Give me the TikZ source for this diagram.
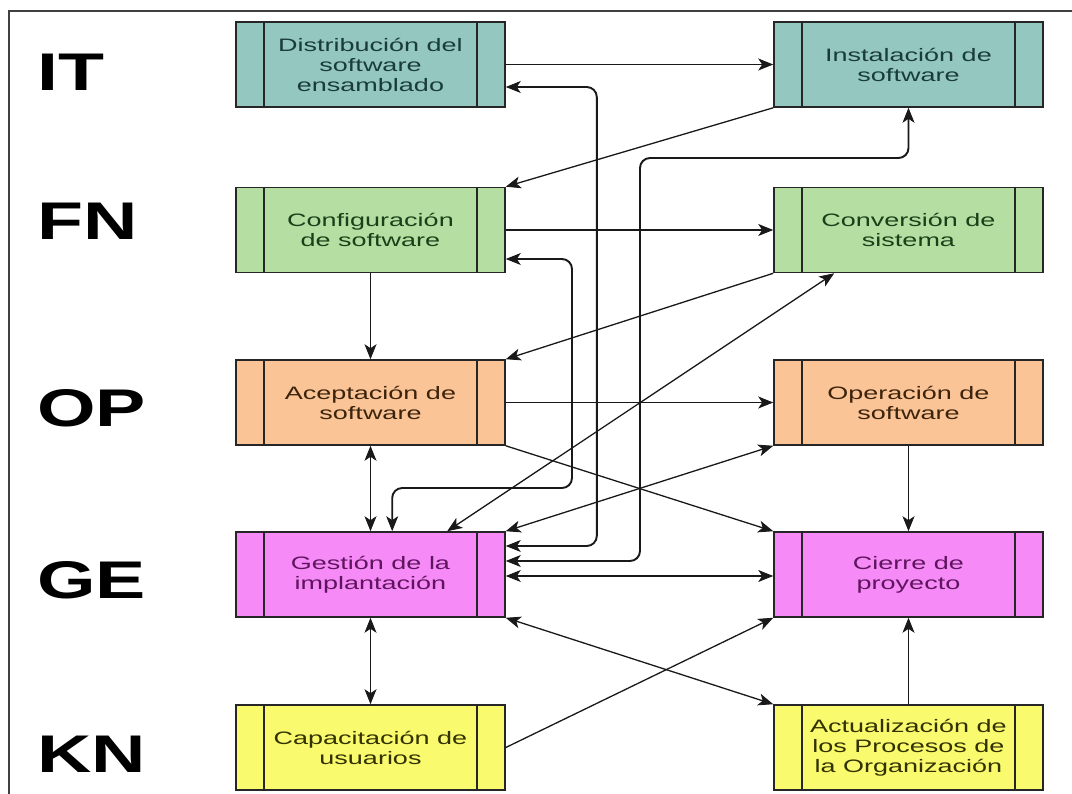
\documentclass[tikz,border=0pt]{standalone}
\usepackage{fontspec}
\setmainfont{Liberation Sans}
\newfontfamily\boxfont[FakeStretch=1.5]{Liberation Sans}
\newfontfamily\labfont[FakeStretch=1.42]{Liberation Sans}
\usetikzlibrary{arrows.meta}
\definecolor{cteal}{RGB}{148,199,192}
\definecolor{cgreen}{RGB}{181,222,162}
\definecolor{corange}{RGB}{251,196,150}
\definecolor{cpink}{RGB}{246,138,246}
\definecolor{cyellow}{RGB}{250,250,110}
\definecolor{tteal}{RGB}{25,60,58}
\definecolor{tgreen}{RGB}{25,65,25}
\definecolor{torange}{RGB}{60,35,12}
\definecolor{tpink}{RGB}{95,20,95}
\definecolor{tyellow}{RGB}{50,50,0}
\tikzset{
  box/.style={draw=black!85, line width=1.6pt, minimum width=269pt, minimum height=85pt,
    inner sep=0pt, align=center, font=\boxfont\fontsize{18}{20}\selectfont},
  lab/.style={font=\labfont\bfseries\fontsize{53}{53}\selectfont, anchor=base west, inner sep=0pt},
  tip/.tip={Stealth[length=15pt,width=12pt,inset=4pt,line width=0.8pt]},
  arr/.style={-tip, line width=1.9pt, black!90},
  dbl/.style={tip-tip, line width=1.9pt, black!90},
  thinarr/.style={-tip, line width=1.3pt, black!90},
  thindbl/.style={tip-tip, line width=1.3pt, black!90}
}
\begin{document}
\begin{tikzpicture}[x=1pt,y=-1pt]
\useasboundingbox (0,0) rectangle (1072,794);
\fill[white] (0,0) rectangle (1072,794);
\draw[line width=1.6pt, black!75] (9,794) -- (9,11) -- (1072,11);

% row labels
\node[lab] (lIT) at (37,91) {IT};
\node[lab] (lFN) at (37,240) {FN};
\node[lab] (lOP) at (37,427) {OP};
\node[lab] (lGE) at (37,598) {GE};
\node[lab] (lKN) at (37,772) {KN};

% boxes
\node[box, fill=cteal, text=tteal] (dist) at (370.5,64.5) {Distribución del\\software\\ensamblado};
\node[box, fill=cteal, text=tteal] (inst) at (908.5,64.5) {Instalación de\\software};
\node[box, fill=cgreen, text=tgreen] (conf) at (370.5,230) {Configuración\\de software};
\node[box, fill=cgreen, text=tgreen] (conv) at (908.5,230) {Conversión de\\sistema};
\node[box, fill=corange, text=torange] (acep) at (370.5,402.5) {Aceptación de\\software};
\node[box, fill=corange, text=torange] (oper) at (908.5,402.5) {Operación de\\software};
\node[box, fill=cpink, text=tpink] (gest) at (370.5,574.5) {Gestión de la\\implantación};
\node[box, fill=cpink, text=tpink] (cier) at (908.5,574.5) {Cierre de\\proyecto};
\node[box, fill=cyellow, text=tyellow] (capa) at (370.5,747.5) {Capacitación de\\usuarios};
\node[box, fill=cyellow, text=tyellow] (actu) at (908.5,747.5) {Actualización de\\los Procesos de\\la Organización};

\foreach \n in {dist,inst,conf,conv,acep,oper,gest,cier,capa,actu}{
  \draw[line width=1.6pt, black!85] ([xshift=29pt]\n.north west) -- ([xshift=29pt]\n.south west);
  \draw[line width=1.6pt, black!85] ([xshift=-29pt]\n.north east) -- ([xshift=-29pt]\n.south east);
}

% straight connectors
\draw[arr] (dist.east) -- (inst.west);
\draw[arr] (conf.east) -- (conv.west);
\draw[arr] (acep.east) -- (oper.west);
\draw[dbl] ([yshift=-1.5pt]gest.east) -- ([yshift=-1.5pt]cier.west);
\draw[arr] (conf.south) -- (acep.north);
\draw[dbl] (acep.south) -- (gest.north);
\draw[dbl] (gest.south) -- (capa.north);
\draw[arr] (oper.south) -- (cier.north);
\draw[arr] (actu.north) -- (cier.south);

% diagonal connectors
\draw[thinarr] (inst.south west) -- (conf.north east);
\draw[thinarr] (conv.south west) -- (acep.north east);
\draw[thindbl] (oper.south west) -- (gest.north east);
\draw[thinarr] (acep.south east) -- (cier.north west);
\draw[thindbl] (gest.south east) -- (actu.north west);
\draw[thinarr] (capa.east) -- (cier.south west);
\draw[thindbl] ([xshift=212pt]gest.north west) -- ([xshift=61pt]conv.south west);

% routed connectors
\draw[dbl, rounded corners=10pt] ([yshift=-22.5pt]dist.east) -| ([xshift=91pt,yshift=28.5pt]gest.east) -- ([yshift=28.5pt]gest.east);
\draw[dbl, rounded corners=10pt] ([yshift=13.5pt]gest.east) -| (640,158) -| (inst.south);
\draw[dbl, rounded corners=10pt] ([yshift=-29pt]conf.east) -| (572,488) -| ([xshift=157pt]gest.north west);
\end{tikzpicture}
\end{document}
